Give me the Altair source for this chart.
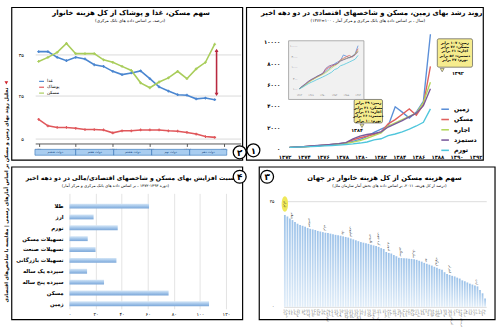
import altair as alt
import pandas as pd

FONT = "DejaVu Sans"
FA_DIGITS = "۰۱۲۳۴۵۶۷۸۹"

# ---------------- panel 2: share of housing, food, clothing ----------------
years2 = [1370, 1371, 1372, 1373, 1374, 1375, 1376, 1377, 1378, 1379,
          1380, 1381, 1382, 1383, 1384, 1385, 1386, 1387, 1388, 1389]
food2 = [35.7, 35.7, 34.3, 33.5, 34.3, 33.9, 32.5, 32.1, 30.9, 30.1,
         30.5, 31.0, 29.1, 27.1, 26.1, 25.2, 25.1, 24.2, 24.4, 24.0]
clothing2 = [9.7, 8.1, 7.7, 7.7, 7.5, 7.2, 7.2, 7.1, 6.4, 6.9,
             6.9, 7.1, 7.1, 7.1, 6.9, 6.8, 6.5, 6.1, 5.5, 5.3]
housing2 = [33.3, 34.3, 35.5, 37.7, 35.2, 35.2, 35.2, 33.7, 33.1, 32.1,
            31.1, 28.1, 26.9, 28.3, 29.3, 30.9, 29.1, 31.5, 33.1, 37.5]
series2 = ["غذا", "پوشاک", "مسکن"]
colors2 = ["#4a86d0", "#e0575b", "#a9cd5b"]
axis_years2 = [1370, 1371, 1372, 1373, 1374, 1375, 1376, 1377, 1378, 1379, 1380,
               1381, 1382, 1383, 1384, 1385, 1386, 1387, 1388, 1389, 1390, 1391]
gov_start = [1369.6, 1374.0, 1378.1, 1382.2, 1386.3]
gov_end = [1374.0, 1378.1, 1382.2, 1386.3, 1390.3]
gov_names = ["دولت ششم", "دولت هفتم", "دولت هشتم", "دولت نهم", "دولت دهم"]
y_ticks2 = [5, 10, 25, 30, 35]
gap2 = 9.53          # shift of the upper part of the broken axis
arrow_year = 1389.2
arrow_from, arrow_to = 25.3, 36.0

# ---------------- panel 1: growth of land, housing and indicators ----------------
years1 = [1372, 1373, 1374, 1375, 1376, 1377, 1378, 1379, 1380, 1381, 1382,
          1383, 1384, 1385, 1386, 1387, 1388, 1389, 1390, 1391, 1392]
land1 = [100, 130, 160, 210, 260, 300, 380, 440, 520, 650, 850,
         1100, 1500, 1800, 2100, 3900, 3400, 2850, 3400, 4400, 10700]
house1 = [100, 125, 155, 200, 250, 300, 360, 420, 500, 800, 1000,
          1150, 1300, 1550, 2300, 2700, 3200, 3700, 3100, 4100, 7700]
rent1 = [100, 120, 150, 190, 240, 290, 350, 410, 480, 580, 730,
         950, 1200, 1450, 2100, 2400, 2700, 3000, 3300, 4300, 6200]
wage1 = [100, 130, 170, 220, 270, 320, 380, 450, 540, 900, 1150,
         1300, 1400, 1550, 2000, 2300, 2600, 2950, 3300, 4000, 5600]
cpi1 = [100, 115, 140, 170, 200, 230, 270, 310, 360, 420, 500,
        600, 800, 900, 1200, 1350, 1550, 1800, 2100, 2450, 3700]
series1 = ["زمین", "مسکن", "اجاره", "دستمزد", "تورم"]
colors1 = ["#5b8fd8", "#e0605e", "#b4d75e", "#7b5b9c", "#4fc6dc"]
label_years1 = [1372, 1374, 1376, 1378, 1380, 1382, 1384, 1386, 1388, 1390, 1392]
y_ticks1 = [0, 2000, 4000, 6000, 8000, 10000]
inset_yticks = [100, 300, 1000, 3000, 10000]
inset_xticks = [1372, 1376, 1380, 1384, 1388, 1392]
callout_mid = ["زمین: ۳۹ برابر", "مسکن: ۳۱ برابر", "اجاره: ۲۱ برابر",
               "دستمزد: ۲۶ برابر", "تورم: ۱۰ برابر"]
callout_top = ["زمین: ۱۰۷ برابر", "مسکن: ۷۶ برابر", "اجاره: ۶۱ برابر",
               "دستمزد: ۵۶ برابر", "تورم: ۳۷ برابر"]

# ---------------- panel 4: growth ratio of assets ----------------
cats4 = ["طلا", "ارز", "تورم", "تسهیلات مسکن", "تسهیلات صنعت",
         "تسهیلات بازرگانی", "سپرده یک ساله", "سپرده پنج ساله", "مسکن", "زمین"]
vals4 = [61, 18.5, 37, 14, 20, 36, 13.5, 26.5, 76, 107]
x_ticks4 = [0, 20, 40, 60, 80, 100, 120]

# ---------------- panel 3: housing share in the world ----------------
countries3 = ["ایران", "دانمارک", "سوئد", "فنلاند", "آلمان", "فرانسه", "نروژ", "هلند", "بلژیک", "اتریش",
              "سوئیس", "انگلیس", "ایتالیا", "اسپانیا", "پرتغال", "یونان", "ایرلند", "لوکزامبورگ", "ایسلند", "استونی",
              "لتونی", "لیتوانی", "لهستان", "چک", "اسلواکی", "مجارستان", "اسلوونی", "کرواسی", "رومانی", "بلغارستان",
              "صربستان", "ترکیه", "روسیه", "اوکراین", "بلاروس", "قزاقستان", "ژاپن", "کره جنوبی", "چین", "هند",
              "پاکستان", "اندونزی", "مالزی", "تایلند", "فیلیپین", "ویتنام", "سنگاپور", "استرالیا", "نیوزیلند", "کانادا",
              "آمریکا", "مکزیک", "برزیل", "آرژانتین", "شیلی", "کلمبیا", "پرو", "ونزوئلا", "اکوادور", "بولیوی",
              "اروگوئه", "پاراگوئه", "مصر", "مراکش", "تونس", "الجزایر", "آفریقای جنوبی", "نیجریه", "کنیا", "اتیوپی",
              "عربستان سعودی", "امارات", "قطر", "کویت", "عمان", "بحرین", "اردن", "لبنان", "سوریه", "عراق"]
vals3 = [30.5, 30.0, 29.3, 28.8, 28.2, 27.6, 27.2, 26.9, 26.6, 26.2,
         25.9, 25.7, 25.5, 25.2, 25.0, 24.8, 24.6, 24.5, 24.3, 24.1,
         23.9, 23.8, 23.6, 23.4, 23.2, 23.0, 22.7, 22.4, 22.1, 21.8,
         21.5, 21.3, 21.1, 20.9, 20.6, 20.4, 20.2, 19.9, 19.5, 19.2,
         18.2, 17.9, 17.7, 17.2, 16.8, 16.3, 16.2, 16.1, 16.1, 16.0,
         15.9, 15.8, 15.6, 15.3, 15.0, 14.6, 14.3, 14.0, 13.7, 13.3,
         13.0, 12.6, 12.3, 11.5, 10.9, 10.6, 10.3, 10.1, 9.7, 9.4,
         8.8, 8.5, 8.1, 7.7, 7.4, 7.1, 6.8, 5.6, 4.5, 2.8]
annotated3 = [3, 10, 16, 23, 26, 34, 37, 41, 46, 51, 56, 60, 65, 76]
y_ticks3 = [0, 5, 10, 15, 20, 25, 30, 35]

strip_text = "تحلیل روند بهای زمین و مسکن بر اساس آمارهای رسمی | مقایسه با شاخص‌های اقتصادی"


# ---------------- helpers ----------------
def fa(s):
    return "".join(FA_DIGITS[int(c)] if c.isdigit() else c for c in str(s))


def fa_expr(e):
    for i, d in enumerate(FA_DIGITS):
        e = "replace(" + e + ", regexp('" + str(i) + "', 'g'), '" + d + "')"
    return e


ONE = pd.DataFrame({"k": [0]})


def label(text, x, y, size, bold=False, color="black", align="center", angle=0,
          baseline="middle", line_height=0):
    kw = dict(font=FONT, fontSize=size, color=color, align=align, baseline=baseline,
              fontWeight="bold" if bold else "normal")
    if angle:
        kw["angle"] = angle
    if line_height:
        kw["lineHeight"] = line_height
    return alt.Chart(ONE).mark_text(**kw).encode(
        x=alt.value(x), y=alt.value(y), text=alt.value(text))


def box(x, x2, y, y2, stroke="black", sw=1.2, fill="white", fill_opacity=0.0, corner=0):
    kw = dict(stroke=stroke, strokeWidth=sw, fill=fill, fillOpacity=fill_opacity)
    if corner:
        kw["cornerRadius"] = corner
    return alt.Chart(ONE).mark_rect(**kw).encode(
        x=alt.value(x), x2=alt.value(x2), y=alt.value(y), y2=alt.value(y2))


def badge(digit, x, y):
    c = alt.Chart(ONE).mark_point(shape="circle", size=175, filled=True, fill="white",
                                  stroke="black", strokeWidth=1.3, opacity=1).encode(
        x=alt.value(x), y=alt.value(y))
    return [c, label(fa(digit), x, y + 0.5, 9, bold=True)]


# ================= panel 2 =================
W2, H2 = 210, 120
df2 = pd.DataFrame({
    "year": years2 * 3,
    "v": food2 + clothing2 + housing2,
    "series": [series2[0]] * 20 + [series2[1]] * 20 + [series2[2]] * 20,
    "part": ["upper"] * 20 + ["lower"] * 20 + ["upper"] * 20,
})
xs2 = alt.Scale(domain=[1369.63, 1391.8], nice=False, zero=False)
ys2 = alt.Scale(domain=[2.14, 30.71], nice=False, zero=False)
disp_ticks2 = [t if t < 20 else t - gap2 for t in y_ticks2]

lines2 = alt.Chart(df2).transform_calculate(
    disp=f"datum.part == 'upper' ? datum.v - {gap2} : datum.v"
).mark_line(strokeWidth=1.6, point=alt.OverlayMarkDef(shape="cross", size=8, filled=True)).encode(
    x=alt.X("year:Q", scale=xs2, axis=alt.Axis(
        values=axis_years2, labelExpr=fa_expr("format(datum.value, 'd')"), labelFontSize=3.6,
        labelAngle=0, tickSize=3, domainColor="#555", tickColor="#555", labelColor="#333",
        labelPadding=1, grid=False, offset=-7, title=None, labelOverlap=False, labelFlush=False,
        labelFont=FONT)),
    y=alt.Y("disp:Q", scale=ys2, axis=alt.Axis(
        values=disp_ticks2,
        labelExpr=fa_expr(f"format(datum.value < 12 ? datum.value : datum.value + {gap2}, '.0f')"),
        grid=True, gridColor="#d9d9d9", domain=False, ticks=False, labelFontSize=5,
        labelPadding=12, title=None, labelFont=FONT)),
    color=alt.Color("series:N", scale=alt.Scale(domain=series2, range=colors2), legend=alt.Legend(
        orient="none", legendX=3, legendY=46, title=None, symbolType="stroke", symbolSize=25,
        symbolStrokeWidth=1.2, labelFontSize=4.5, labelFont=FONT, rowPadding=0, padding=0,
        labelOffset=2)),
)

arrow_df = pd.DataFrame({"year": [arrow_year], "lo": [arrow_from], "hi": [arrow_to]})
arrow_base = alt.Chart(arrow_df).transform_calculate(
    lo_d=f"datum.lo - {gap2}", hi_d=f"datum.hi - {gap2}")
arrow_rule = arrow_base.mark_rule(color="#b8283f", strokeWidth=1.6).encode(
    x=alt.X("year:Q", scale=xs2), y=alt.Y("lo_d:Q", scale=ys2), y2="hi_d:Q")
arrow_up = arrow_base.mark_point(shape="triangle-up", size=16, filled=True, color="#b8283f", opacity=1).encode(
    x=alt.X("year:Q", scale=xs2), y=alt.Y("hi_d:Q", scale=ys2))
arrow_dn = arrow_base.mark_point(shape="triangle-down", size=16, filled=True, color="#b8283f", opacity=1).encode(
    x=alt.X("year:Q", scale=xs2), y=alt.Y("lo_d:Q", scale=ys2))

gov_df = pd.DataFrame({"start": gov_start, "end": gov_end, "name": gov_names})
gov_rect = alt.Chart(gov_df).mark_rect(fill="#a9cdf0", stroke="#2f6db5", strokeWidth=0.6).encode(
    x=alt.X("start:Q", scale=xs2), x2="end:Q", y=alt.value(119), y2=alt.value(125))
gov_text = alt.Chart(gov_df).transform_calculate(mid="(datum.start + datum.end) / 2").mark_text(
    font=FONT, fontSize=3.2, color="#1d4f8a").encode(
    x=alt.X("mid:Q", scale=xs2), y=alt.value(122), text="name:N")

strip_tri = alt.Chart(ONE).mark_point(shape="triangle-down", size=14, filled=True, color="#d0202a",
                                      opacity=1).encode(x=alt.value(-29.5), y=alt.value(51))

p2 = alt.layer(
    alt.Chart(ONE).mark_rect(opacity=0).encode(
        x=alt.value(-36), x2=alt.value(460), y=alt.value(-30), y2=alt.value(297)),
    box(-24, 212, -26, 130),
    lines2, arrow_rule, arrow_up, arrow_dn, gov_rect, gov_text,
    label("سهم مسکن، غذا و پوشاک از کل هزینه خانوار", 98, -20, 7.2, bold=True),
    label("(درصد، بر اساس داده های بانک مرکزی)", 97, -12, 4.3),
    strip_tri,
    label(strip_text, -29.5, 56, 5.0, bold=True, align="right", angle=270),
    *badge("2", 209, 122),
).properties(width=W2, height=H2)

# ================= panel 1 =================
W1, H1 = 200, 120
df1 = pd.DataFrame({
    "year": years1 * 5,
    "v": land1 + house1 + rent1 + wage1 + cpi1,
    "series": sum([[s] * len(years1) for s in series1], []),
})
color1 = alt.Scale(domain=series1, range=colors1)
xs1 = alt.Scale(domain=[1371.17, 1398.95], nice=False, zero=False)
ys1 = alt.Scale(domain=[-183, 10826], nice=False, zero=False)

lines1 = alt.Chart(df1).mark_line(strokeWidth=1.4).encode(
    x=alt.X("year:Q", scale=xs1, axis=None),
    y=alt.Y("v:Q", scale=ys1, axis=alt.Axis(
        values=y_ticks1, labelExpr=fa_expr("format(datum.value, 'd')"), domain=False, ticks=False,
        grid=False, labelFontSize=5.5, labelFontWeight="bold", labelPadding=4, title=None,
        labelFont=FONT)),
    color=alt.Color("series:N", scale=color1, sort=series1, legend=alt.Legend(
        orient="none", legendX=160, legendY=73, title=None, symbolType="stroke",
        symbolStrokeWidth=1.6, symbolSize=60, labelFontSize=6.3, labelFontWeight="bold",
        labelFont=FONT, rowPadding=1.5, labelOffset=4, padding=0)),
)


def callout(lines, x, x2, y, y2, tri_x, tri_y, year_txt, yx, yy):
    return [
        alt.Chart(ONE).mark_point(shape="triangle-down", size=16, filled=True, fill="#f6ec8e",
                                  stroke="#555", strokeWidth=0.6, opacity=1).encode(
            x=alt.value(tri_x), y=alt.value(tri_y)),
        box(x, x2, y, y2, stroke="#555", sw=0.7, fill="#f6ec8e", fill_opacity=1, corner=1.5),
        label(lines, (x + x2) / 2, y + 4, 3.7, bold=True, baseline="middle", line_height=4.4),
        label(year_txt, yx, yy, 5, bold=True),
    ]


main1 = alt.layer(
    box(-38, 204, -26, 130),
    lines1,
    *callout(callout_mid, 72, 101, 68, 92, 80, 95, "۱۳۸۴", 75, 99),
    *callout(callout_top, 157, 193, 6, 35, 162, 38, "۱۳۹۲", 178, 41),
    label("روند رشد بهای زمین، مسکن و شاخصهای اقتصادی در دو دهه اخیر", 90, -20, 7.0, bold=True),
    label("(۱۳۷۲=۱۰۰ ، سال ، بر اساس داده های بانک مرکزی و مرکز آمار)", 86, -12, 4.3),
    *badge("1", -31, 120),
)

axis_layer1 = alt.Chart(pd.DataFrame({"yr": label_years1})).mark_point(opacity=0).encode(
    x=alt.X("yr:Q", scale=alt.Scale(domain=[1371.9, 1392.4], nice=False, zero=False), axis=alt.Axis(
        values=label_years1, labelExpr=fa_expr("format(datum.value, 'd')"), orient="bottom",
        domain=False, ticks=False, grid=False, labelFontSize=5.4, labelFontWeight="bold",
        labelPadding=4, labelBaseline="top", title=None, labelOverlap=False, labelFlush=False,
        labelFont=FONT)),
    y=alt.value(0),
)

ixs = alt.Scale(domain=[1366.67, 1433.33], nice=False, zero=False)
iys = alt.Scale(type="log", domain=[0.1245, 42560], nice=False)
inset_lines = alt.Chart(df1).mark_line(strokeWidth=0.8).encode(
    x=alt.X("year:Q", scale=ixs, axis=None),
    y=alt.Y("v:Q", scale=iys, axis=None),
    color=alt.Color("series:N", scale=color1, legend=None),
)
inset_yl = alt.Chart(pd.DataFrame({"t": inset_yticks, "lab": [fa(t) for t in inset_yticks]})).mark_text(
    font=FONT, fontSize=2.8, color="#666", align="right").encode(
    x=alt.value(14), y=alt.Y("t:Q", scale=iys, axis=None), text="lab:N")
inset_xl = alt.Chart(pd.DataFrame({"yr": inset_xticks, "lab": [fa(t) for t in inset_xticks]})).mark_text(
    font=FONT, fontSize=2.6, color="#666").encode(
    x=alt.X("yr:Q", scale=ixs, axis=None), y=alt.value(63), text="lab:N")
inset = alt.layer(
    box(5, 82, 8, 68, stroke="#9a9a9a", sw=0.8, fill="#f1f1f1", fill_opacity=1),
    inset_lines, inset_yl, inset_xl,
)

p1 = alt.layer(main1, axis_layer1, inset).resolve_scale(
    x="independent", y="independent", color="independent").properties(width=W1, height=H1)

# ================= panel 4 =================
W4, H4 = 197, 118
df4 = pd.DataFrame({"cat": cats4, "v": vals4})
xs4 = alt.Scale(domain=[-26.25, 121.5], nice=False, zero=False)
ys4 = alt.Scale(paddingInner=0.55, paddingOuter=0.59, align=0.8)
grad4 = {"gradient": "linear", "x1": 0, "x2": 0, "y1": 0, "y2": 1,
         "stops": [{"offset": 0, "color": "#d6e7f7"}, {"offset": 0.5, "color": "#a4c6ea"},
                   {"offset": 1, "color": "#7aa6d8"}]}
bars4 = alt.Chart(df4).mark_bar(fill=grad4).encode(
    x=alt.X("v:Q", scale=xs4, axis=alt.Axis(
        values=x_ticks4, labelExpr=fa_expr("format(datum.value, 'd')"), grid=True,
        gridColor="#e3e3e3", domain=False, ticks=False, labelFontSize=5, labelPadding=3,
        title=None, labelFlush=False, labelFont=FONT)),
    x2=alt.datum(0),
    y=alt.Y("cat:N", sort=cats4, scale=ys4, axis=None),
)
cat_labels4 = alt.Chart(df4).mark_text(font=FONT, fontSize=5.5, fontWeight="bold", align="right").encode(
    x=alt.value(29), y=alt.Y("cat:N", sort=cats4, scale=ys4, axis=None), text="cat:N")

p4 = alt.layer(
    box(-24, 212, -27, 129),
    bars4, cat_labels4,
    label("نسبت افزایش بهای مسکن و شاخصهای اقتصادی/مالی در دو دهه اخیر", 98, -16, 6.3, bold=True),
    label("(دوره ۱۳۹۳-۱۳۷۲ ، بر اساس داده های بانک مرکزی و مرکز آمار)", 82, -8, 4.1),
    *badge("4", 209, -17),
).properties(width=W4, height=H4)

# ================= panel 3 =================
W3, H3 = 207, 116
df3 = pd.DataFrame({"country": countries3, "v": vals3})
xs3 = alt.Scale(paddingInner=0.3, paddingOuter=0.1)
ys3 = alt.Scale(domain=[0, 37.66], nice=False)
grad3 = {"gradient": "linear", "x1": 0, "x2": 0, "y1": 0, "y2": 1,
         "stops": [{"offset": 0, "color": "#9cc2e9"}, {"offset": 1, "color": "#e2eef9"}]}
bars3 = alt.Chart(df3).mark_bar(fill=grad3).encode(
    x=alt.X("country:N", sort=countries3, scale=xs3, axis=alt.Axis(
        labelAngle=90, labelAlign="left", labelBaseline="middle", labelFontSize=2.6,
        labelColor="#666", labelPadding=2, domain=False, ticks=False, title=None,
        labelOverlap=False, labelFont=FONT)),
    y=alt.Y("v:Q", scale=ys3, axis=alt.Axis(
        values=y_ticks3, labelExpr=fa_expr("format(datum.value, 'd')"), grid=True,
        gridColor="#dcdcdc", domain=False, ticks=False, labelFontSize=4.5, labelPadding=10,
        title=None, labelFont=FONT)),
)
ann_df = pd.DataFrame({"country": [countries3[i] for i in annotated3],
                       "v": [vals3[i] for i in annotated3]})
ann3 = alt.Chart(ann_df).transform_calculate(ytop="datum.v + 0.5").mark_text(
    font=FONT, fontSize=3.0, color="#333", angle=90, align="right", baseline="middle").encode(
    x=alt.X("country:N", sort=countries3, scale=xs3), y=alt.Y("ytop:Q", scale=ys3), text="country:N")
top_df = pd.DataFrame({"country": [countries3[0]], "v": [vals3[0]]})
ellipse = "M0,-1 C0.55,-1 0.55,1 0,1 C-0.55,1 -0.55,-1 0,-1 Z"
hl3 = alt.Chart(top_df).transform_calculate(yc="datum.v + 3.6").mark_point(
    shape=ellipse, size=250, filled=True, color="#efe85a", opacity=1).encode(
    x=alt.X("country:N", sort=countries3, scale=xs3), y=alt.Y("yc:Q", scale=ys3))
hl3_text = alt.Chart(top_df).transform_calculate(yc="datum.v + 3.6").mark_text(
    font=FONT, fontSize=3.2, color="#222", angle=90, align="center", baseline="middle").encode(
    x=alt.X("country:N", sort=countries3, scale=xs3), y=alt.Y("yc:Q", scale=ys3), text="country:N")

p3 = alt.layer(
    box(-25, 216, -27, 129),
    bars3, ann3, hl3, hl3_text,
    label("سهم هزینه مسکن از کل هزینه خانوار در جهان", 103, -16, 6.9, bold=True),
    label("(درصد از کل هزینه، ۲۰۱۱، بر اساس داده های بخش آمار سازمان ملل)", 108, -8, 4.0),
    *badge("3", -17, -17),
).properties(width=W3, height=H3)

chart = alt.concat(
    p2, p1, p4, p3, columns=2, spacing=44, bounds="flush", align="none"
).resolve_scale(
    x="independent", y="independent", color="independent"
).properties(padding=0).configure(
    background="white", font=FONT
).configure_view(strokeWidth=0).configure_axis(labelFont=FONT)

chart.save("out.html", embed_options={"renderer": "svg", "actions": False})
